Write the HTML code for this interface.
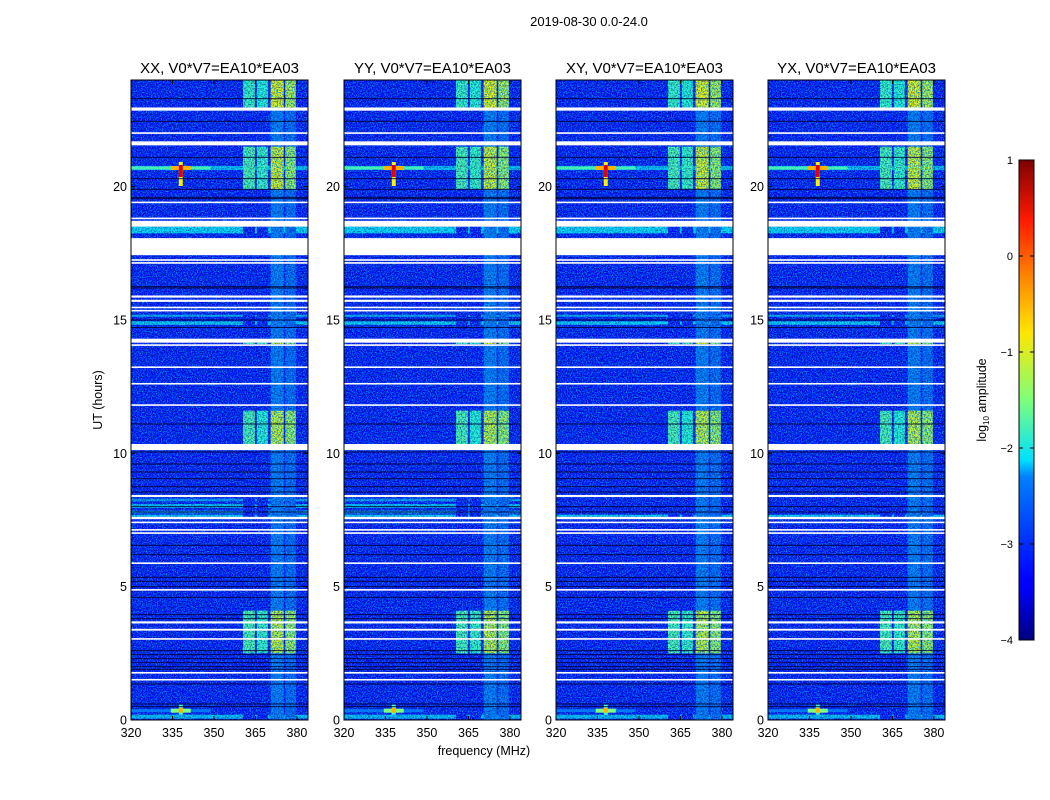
<!DOCTYPE html>
<html><head><meta charset="utf-8">
<style>
body{margin:0;background:#fff;}
svg{display:block;font-family:"Liberation Sans","DejaVu Sans",sans-serif;}
</style></head>
<body>
<svg id="chart" width="1050" height="800" viewBox="0 0 1050 800" xmlns="http://www.w3.org/2000/svg">
<defs>
<filter id="speck" x="0" y="0" width="1" height="1" color-interpolation-filters="sRGB">
<feTurbulence type="fractalNoise" baseFrequency="0.8" numOctaves="2" seed="3" result="n"/>
<feColorMatrix in="n" type="matrix" values="0 0 0 0 0  0 0 0 0 0.75  0 0 0 0 1  0 0 0 5 -2.3"/>
</filter>
<filter id="darkspeck" x="0" y="0" width="1" height="1" color-interpolation-filters="sRGB">
<feTurbulence type="fractalNoise" baseFrequency="0.7" numOctaves="2" seed="11" result="n"/>
<feColorMatrix in="n" type="matrix" values="0 0 0 0 0  0 0 0 0 0  0 0 0 0 0.35  0 0 0 5 -2.3"/>
</filter>
<linearGradient id="jetgrad" x1="0" y1="1" x2="0" y2="0">
<stop offset="0" stop-color="#00007f"/><stop offset="0.11" stop-color="#0000ff"/>
<stop offset="0.125" stop-color="#0000ff"/><stop offset="0.34" stop-color="#0080ff"/>
<stop offset="0.375" stop-color="#00e0ff"/><stop offset="0.5" stop-color="#7dff7a"/>
<stop offset="0.64" stop-color="#ffe600"/><stop offset="0.75" stop-color="#ff8a00"/>
<stop offset="0.875" stop-color="#ff1a00"/><stop offset="1" stop-color="#7f0000"/>
</linearGradient>
</defs>
<text x="589" y="26" font-size="13" text-anchor="middle">2019-08-30 0.0-24.0</text>
<g id="panels"></g>
<text x="484" y="755" font-size="12.5" text-anchor="middle">frequency (MHz)</text>
<text transform="translate(102,400) rotate(-90)" font-size="12.5" text-anchor="middle">UT (hours)</text>
<g>
<rect x="1019" y="160" width="15" height="480" fill="url(#jetgrad)" stroke="#000" stroke-width="1"/>
<g id="cbticks"></g>
<text transform="translate(986,400) rotate(-90)" font-size="12.5" text-anchor="middle">log<tspan font-size="8" dy="3">10</tspan><tspan dy="-3"> amplitude</tspan></text>
</g>
</svg>
<script>
// ---- data ----
const panelTitles = ["XX, V0*V7=EA10*EA03","YY, V0*V7=EA10*EA03","XY, V0*V7=EA10*EA03","YX, V0*V7=EA10*EA03"];
const xTicks = [320,335,350,365,380];
const yTicks = [0,5,10,15,20];
const cbTicks = [1,0,-1,-2,-3,-4];
const backgroundLevel = -3.3;
// missing-data gaps (hours start,end)
const gapStart = [22.85,21.98,21.55,19.38,18.78,18.5,17.43,17.22,17.11,15.84,15.68,15.44,15.32,14.15,14.03,13.2,12.58,11.78,10.12,8.36,7.53,7.38,7.1,6.98,5.85,4.85,3.62,3.35,3.01,1.74,1.48];
const gapEnd   = [22.97,22.04,21.7,19.44,18.84,18.72,18.07,17.28,17.17,15.92,15.76,15.5,15.38,14.3,14.09,13.26,12.64,11.84,10.35,8.44,7.62,7.44,7.16,7.04,5.91,4.91,3.7,3.42,3.07,1.8,1.54];
// dark flagged rows (hours)
const darkRows = [23.3,22.45,21.1,20.3,19.9,19.6,19.55,16.25,16.2,15.0,14.72,11.1,10.05,9.6,9.3,9.05,8.75,8.55,8.0,7.8,6.55,6.2,5.35,5.2,5.0,4.6,3.95,3.8,2.6,2.45,2.3,2.15,2.0,1.9,1.35,0.6,0.5];
// bright broadband rows (hours start,end,level, panel-mask XX,YY,XY,YX)
const rowStart = [18.25,21.58,14.82,15.12,7.95,7.75,7.62,8.2,0.05,20.62];
const rowEnd   = [18.5,21.66,14.95,15.2,8.1,7.85,7.7,8.3,0.2,20.78];
const rowLevel = [-2.25,-2.6,-2.3,-2.5,-2.4,-2.5,-2.3,-2.6,-2.4,-2.4];
const rowMask  = [[1,1,1,1],[1,1,1,1],[1,1,1,1],[1,1,1,1],[1,1,0,0],[1,1,0,0],[1,1,1,1],[1,1,0,0],[1,1,1,1],[1,1,1,1]];
// RFI channel bands (MHz)
const bandLo = [360.5,365.5,370.5,375.8];
const bandHi = [364.8,369.5,375.2,379.6];
// band activity periods (hours) and per-band log amplitude
const periodStart = [0,22.97,19.9,10.35,2.5,14.1];
const periodEnd   = [24,24,21.5,11.6,4.1,14.15];
const periodLevel = [[-3.3,-3.3,-2.8,-2.9],[-1.8,-1.9,-0.9,-1.2],[-1.7,-1.8,-1.0,-1.3],[-1.7,-1.9,-1.1,-1.3],[-1.7,-1.8,-1.1,-1.3],[-1.8,-1.8,-0.9,-1.4]];
// point RFI source
const srcFreq = [338,338];
const srcHour = [20.7,0.35];
const srcLevel = [0.5,-0.5];

// ---- layout / axes ----
const panelX = [131,344,556,768], PW = 177, PY0 = 80, PY1 = 720;
const fx = (f,i)=> panelX[i] + (f-320)/(384-320)*PW;
const hy = h => PY1 - h/24*(PY1-PY0);
const cy = v => 640 - (v+4)/5*480;
function jet(v){
  const t = Math.max(0,Math.min(1,(v+4)/5));
  const c = x=>Math.round(255*Math.max(0,Math.min(1,1.5-Math.abs(4*t-x))));
  return `rgb(${c(3)},${c(2)},${c(1)})`;
}
const NS="http://www.w3.org/2000/svg";
function mk(tag,attrs,parent){const e=document.createElementNS(NS,tag);for(const k in attrs)e.setAttribute(k,attrs[k]);parent.appendChild(e);return e;}
const panels=document.getElementById('panels');

for(let i=0;i<4;i++){
  const g=mk('g',{},panels);
  
  
  const x0=panelX[i];
  const bg=mk('rect',{x:x0,y:PY0,width:PW,height:PY1-PY0,fill:jet(backgroundLevel)},g);
  
  
  for(let r=0;r<rowStart.length;r++){
    if(!rowMask[r][i])continue;
    const e=mk('rect',{x:x0,y:hy(rowEnd[r]),width:PW,height:hy(rowStart[r])-hy(rowEnd[r]),fill:jet(rowLevel[r])},g);
    
    
  }
  for(let p=0;p<periodStart.length;p++){
    for(let b=0;b<bandLo.length;b++){
      const e=mk('rect',{x:fx(bandLo[b],i),y:hy(periodEnd[p]),width:fx(bandHi[b],i)-fx(bandLo[b],i),height:hy(periodStart[p])-hy(periodEnd[p]),fill:jet(periodLevel[p][b])},g);
      
      
    }
  }
  const sp=mk('rect',{x:x0,y:PY0,width:PW,height:PY1-PY0,fill:'#000',filter:'url(#speck)',opacity:0.7},g);
  
  
  const sp2=mk('rect',{x:x0,y:PY0,width:PW,height:PY1-PY0,fill:'#000',filter:'url(#darkspeck)',opacity:0.45},g);
  
  
  for(let s=0;s<srcFreq.length;s++){
    const sx=fx(srcFreq[s],i), sy=hy(srcHour[s]);
    const e0=mk('rect',{x:x0,y:sy-1.5,width:PW*0.45,height:3,fill:jet(srcLevel[s]-2.2),opacity:0.8},g);
    
    
    const e1=mk('rect',{x:sx-10,y:sy-2,width:20,height:4,fill:jet(srcLevel[s]-1.0)},g);
    
    
    const e3=mk('rect',{x:sx-2,y:sy-6,width:4,height:s==0?24:10,fill:jet(srcLevel[s]-1.3)},g);
    
    
    const e2=mk('rect',{x:sx-2,y:sy-3,width:4,height:s==0?12:5,fill:jet(srcLevel[s])},g);
    
    
  }
  for(const d of darkRows){
    const e=mk('rect',{x:x0,y:hy(d)-0.5,width:PW,height:1,fill:'#000030',opacity:0.85},g);
    
    
  }
  for(let k=0;k<gapStart.length;k++){
    const e=mk('rect',{x:x0,y:hy(gapEnd[k]),width:PW,height:Math.max(1.5,hy(gapStart[k])-hy(gapEnd[k])),fill:'#fff'},g);
    
    
  }
  const fr=mk('rect',{x:x0,y:PY0,width:PW,height:PY1-PY0,fill:'none',stroke:'#000','stroke-width':1},g);
  
  
  const t=mk('text',{x:x0+PW/2,y:73,'font-size':15,'text-anchor':'middle'},g);
  t.textContent=panelTitles[i];
  
  
  for(const f of xTicks){
    const x=fx(f,i);
    mk('line',{x1:x,x2:x,y1:PY1,y2:PY1-4,stroke:'#000'},g);
    mk('line',{x1:x,x2:x,y1:PY0,y2:PY0+4,stroke:'#000'},g);
    const l=mk('text',{x:x,y:737,'font-size':12.5,'text-anchor':'middle'},g);
    l.textContent=f;
    
    
  }
  for(const h of yTicks){
    const y=hy(h);
    mk('line',{x1:x0,x2:x0+4,y1:y,y2:y,stroke:'#000'},g);
    mk('line',{x1:x0+PW,x2:x0+PW-4,y1:y,y2:y,stroke:'#000'},g);
    const l=mk('text',{x:x0-4,y:y+4.5,'font-size':12.5,'text-anchor':'end'},g);
    l.textContent=h;
    
    
  }
}
const cbt=document.getElementById('cbticks');
for(const v of cbTicks){
  const y=cy(v);
  mk('line',{x1:1019,x2:1023,y1:y,y2:y,stroke:'#000'},cbt);
  mk('line',{x1:1034,x2:1030,y1:y,y2:y,stroke:'#000'},cbt);
  const l=mk('text',{x:1013,y:y+4,'font-size':11,'text-anchor':'end'},cbt);
  l.textContent=v<0?'\u2212'+(-v):v;
  
  
}
</script>
</body></html>
